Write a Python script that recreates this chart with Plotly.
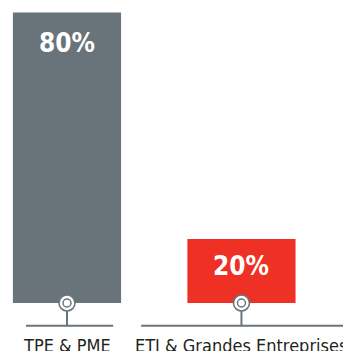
import plotly.graph_objects as go

# Share of companies by size class
categories = ["TPE & PME", "ETI & Grandes Entreprises"]
values = [80, 20]
value_labels = ["80%", "20%"]

bar_colors = ["#69747a", "#ee3124"]
line_color = "#6a757b"
text_color = "#231f20"
narrow = "DejaVu Sans Condensed, Roboto, sans-serif"

x_pos = list(range(len(categories)))
y_floor = 3.05
y_top = 83.3

fig = go.Figure()

fig.add_trace(go.Bar(
    x=x_pos,
    y=values,
    width=0.62,
    marker=dict(color=bar_colors, line=dict(width=0)),
    hoverinfo="skip",
))

# Connector dots at the foot of each bar
fig.add_trace(go.Scatter(
    x=x_pos,
    y=[y_floor] * len(x_pos),
    mode="markers",
    cliponaxis=False,
    marker=dict(symbol="circle", size=16, color="white",
                line=dict(color=line_color, width=1.6)),
    hoverinfo="skip",
))
fig.add_trace(go.Scatter(
    x=x_pos,
    y=[y_floor] * len(x_pos),
    mode="markers",
    cliponaxis=False,
    marker=dict(symbol="circle-open", size=8, color=line_color,
                line=dict(color=line_color, width=1.5)),
    hoverinfo="skip",
))

# Value labels inside the bars
label_shift = [-31, -27]
for xi, v, lab, dy in zip(x_pos, values, value_labels, label_shift):
    fig.add_annotation(
        x=xi, y=v, text="<b>%s</b>" % lab, showarrow=False,
        yanchor="middle", yshift=dy,
        font=dict(family=narrow, size=26, color="white"),
    )

# Stems and rules under each bar, then the category names
rule_spans = [(-0.235, 0.265), (0.425, 1.7)]
for xi, (x0, x1), name in zip(x_pos, rule_spans, categories):
    fig.add_shape(type="line", xref="x", yref="paper",
                  x0=xi, x1=xi, y0=-0.026, y1=-0.075,
                  line=dict(color=line_color, width=2))
    fig.add_shape(type="line", xref="x", yref="paper",
                  x0=x0, x1=x1, y0=-0.075, y1=-0.075,
                  line=dict(color=line_color, width=2))
    fig.add_annotation(
        x=xi, y=-0.10, xref="x", yref="paper", text=name,
        showarrow=False, yanchor="top",
        font=dict(family=narrow, size=18, color=text_color),
    )

fig.update_layout(
    width=343, height=351,
    margin=dict(l=0, r=0, t=0, b=48, pad=0),
    paper_bgcolor="white", plot_bgcolor="white",
    showlegend=False,
    xaxis=dict(range=[-0.384, 1.582], visible=False, fixedrange=True),
    yaxis=dict(range=[y_floor, y_top], visible=False, fixedrange=True),
)

fig.write_html("out.html", config={"displayModeBar": False})
